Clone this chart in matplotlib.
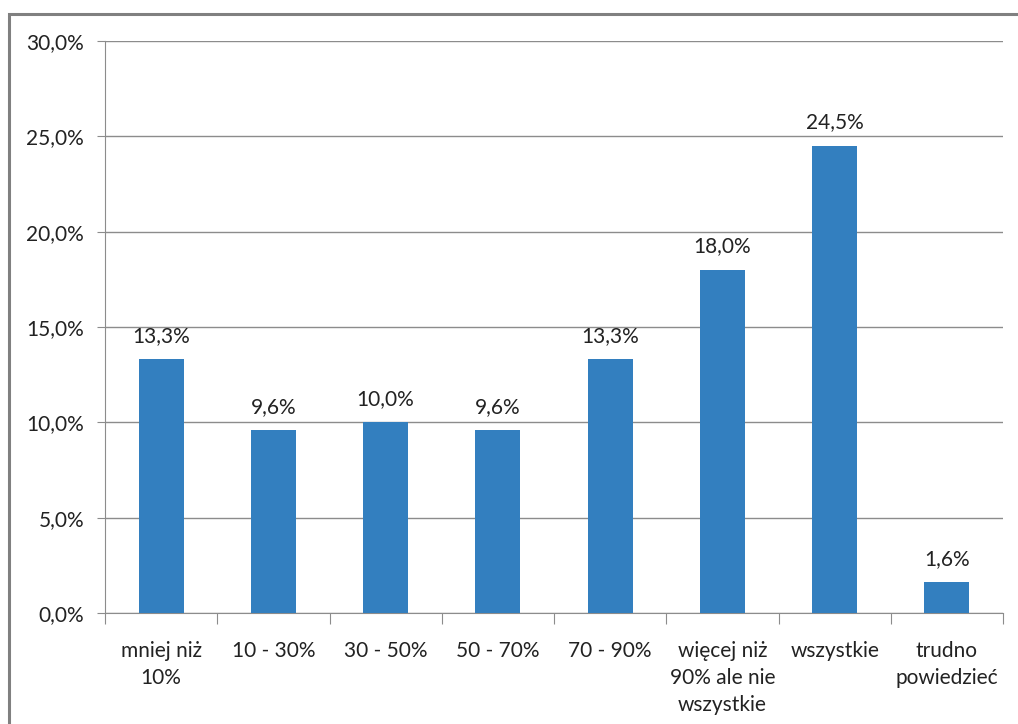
import matplotlib.pyplot as plt
from matplotlib.patches import Rectangle
from matplotlib.ticker import FuncFormatter, MultipleLocator

categories = ['mniej niż\n10%', '10 - 30%', '30 - 50%', '50 - 70%', '70 - 90%',
              'więcej niż\n90% ale nie\nwszystkie', 'wszystkie', 'trudno\npowiedzieć']
values = [13.3, 9.6, 10.0, 9.6, 13.3, 18.0, 24.5, 1.6]

BAR_COLOR = '#337fbf'
GRID_COLOR = '#8c8c8c'
FS = 15

plt.rcParams['font.family'] = ['Lato', 'DejaVu Sans']

W, H = 1018, 724
fig = plt.figure(figsize=(W / 100, H / 100), dpi=100)
ax = fig.add_axes([105 / W, 1 - 613 / H, (1003 - 105) / W, (613 - 41) / H])

# outer chart frame, cut off on right and bottom
fig.patches.append(Rectangle((9 / W, -0.1), 1.2, 1 - 14 / H + 0.1, transform=fig.transFigure,
                             fill=False, edgecolor='#808080', linewidth=2.2))

x = range(len(values))
bars = ax.bar(x, values, width=0.4, color=BAR_COLOR, zorder=3)
for xi, v in zip(x, values):
    ax.text(xi, v + 0.7, f'{v:.1f}%'.replace('.', ','), ha='center', va='bottom',
            fontsize=FS, color='#222222')

ax.set_xlim(-0.5, len(values) - 0.5)
ax.set_ylim(0, 30)
ax.yaxis.set_major_locator(MultipleLocator(5))
ax.yaxis.set_major_formatter(FuncFormatter(lambda v, p: f'{v:.1f}%'.replace('.', ',')))
ax.grid(axis='y', color=GRID_COLOR, linewidth=1, zorder=0)

ax.set_xticks([i + 0.5 for i in range(-1, len(values))])
ax.set_xticklabels([])
ax.set_xticks(list(x), minor=True)
ax.set_xticklabels(categories, minor=True, fontsize=FS, color='#222222', linespacing=1.45,
                   va='top')
ax.tick_params(axis='x', which='major', length=8, color=GRID_COLOR, direction='out')
ax.tick_params(axis='x', which='minor', length=0, pad=20)
ax.tick_params(axis='y', length=6, color=GRID_COLOR, labelsize=FS, labelcolor='#222222', pad=9)

for side in ['top', 'right']:
    ax.spines[side].set_visible(False)
for side in ['left', 'bottom']:
    ax.spines[side].set_color(GRID_COLOR)

fig.savefig('out.png', dpi=100)
